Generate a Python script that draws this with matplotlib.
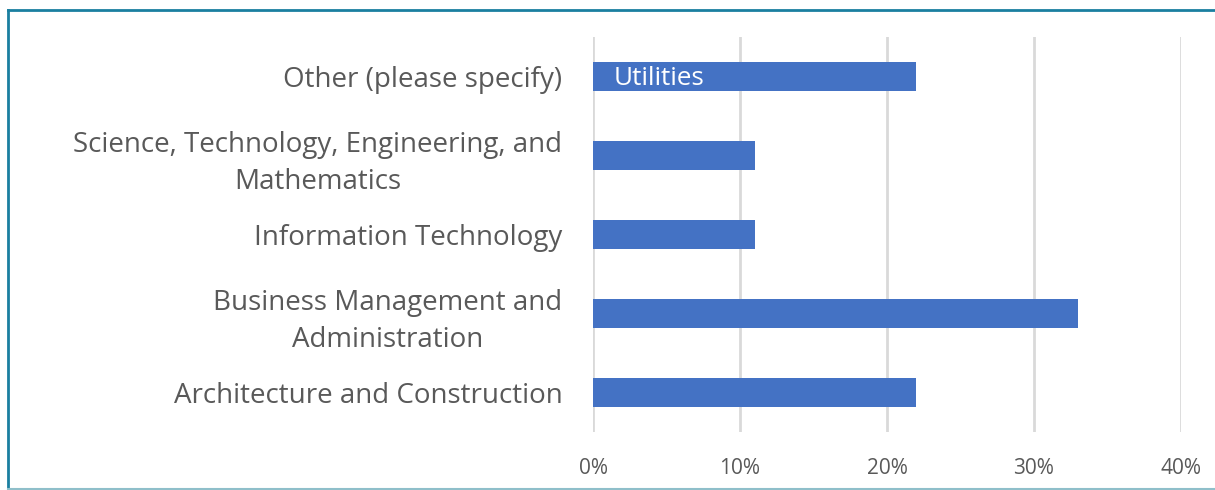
import matplotlib.pyplot as plt
from matplotlib.lines import Line2D

plt.rcParams['font.family'] = ['Open Sans', 'DejaVu Sans']

categories = ['Architecture and Construction',
              'Business Management and\nAdministration',
              'Information Technology',
              'Science, Technology, Engineering, and\nMathematics',
              'Other (please specify)']
values = [22, 33, 11, 11, 22]
xticks = [0, 10, 20, 30, 40]
xtick_labels = ['0%', '10%', '20%', '30%', '40%']
other_note = 'Utilities'

fig = plt.figure(figsize=(12.15, 4.9), dpi=100)
ax = fig.add_axes([593 / 1215, 1 - 432 / 490, 588 / 1215, 395 / 490])

ypos = list(range(len(categories)))
ax.barh(ypos, values, height=0.37, color='#4472c4', zorder=3)
ax.text(1.4, ypos[-1] - 0.02, other_note, color='white', fontsize=18.8, va='center', ha='left', zorder=4)

ax.set_xlim(0, 40)
ax.set_ylim(-0.5, len(categories) - 0.5)
ax.set_xticks(xticks)
ax.set_xticklabels(xtick_labels)
ax.set_yticks(ypos)
ax.set_yticklabels(categories, linespacing=1.42)
ax.tick_params(axis='y', length=0, pad=22, labelsize=20, labelcolor='#595959')
ax.tick_params(axis='x', length=0, pad=19, labelsize=15, labelcolor='#595959')
ax.grid(axis='x', color='#d9d9d9', linewidth=2, zorder=0)
for s in ax.spines.values():
    s.set_visible(False)
for lbl in ax.get_yticklabels():
    lbl.set_horizontalalignment('right')
    lbl.set_multialignment('center')

# outer frame
fig.add_artist(Line2D([8 / 1215, 8 / 1215], [0, 1 - 10 / 490], color='#1a7fa0', linewidth=2, transform=fig.transFigure))
fig.add_artist(Line2D([8 / 1215, 1], [1 - 10 / 490, 1 - 10 / 490], color='#1a7fa0', linewidth=2, transform=fig.transFigure))
fig.add_artist(Line2D([8 / 1215, 1], [1 / 490, 1 / 490], color='#8fbfca', linewidth=1.5, transform=fig.transFigure))

plt.savefig('out.png', dpi=100)
